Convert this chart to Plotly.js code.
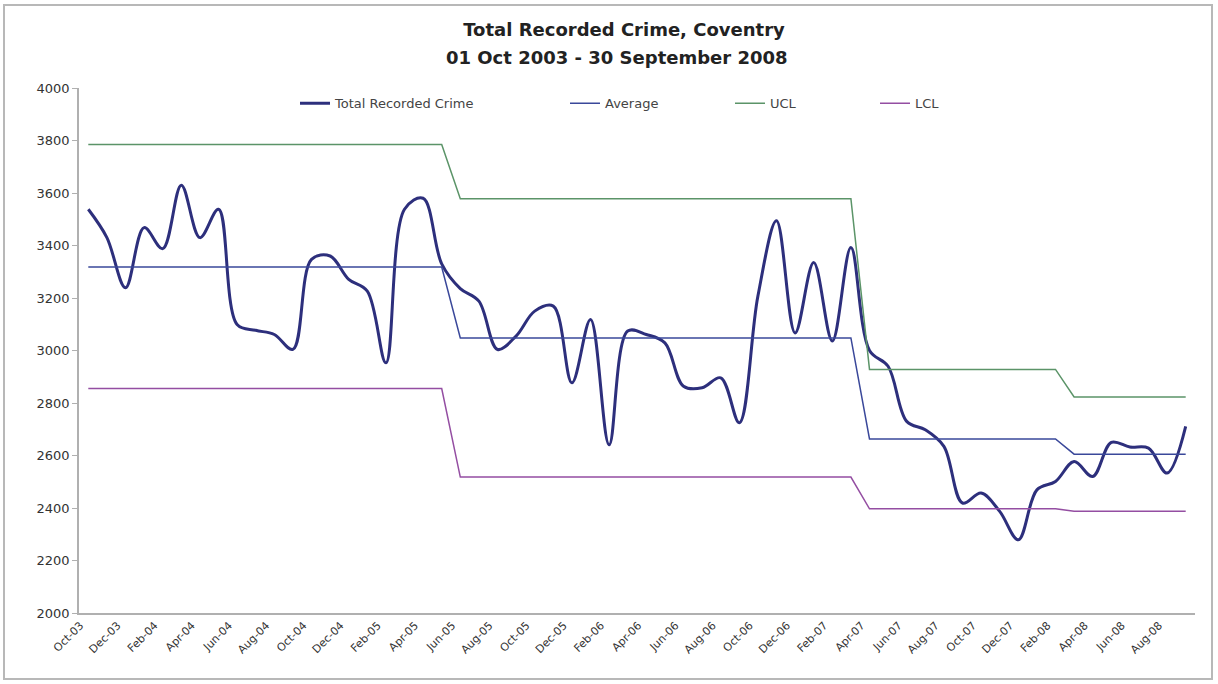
<!DOCTYPE html>
<html>
<head>
<meta charset="utf-8">
<script src="https://cdn.plot.ly/plotly-3.0.1.min.js"></script>
<style>
  html, body { margin: 0; padding: 0; background: #ffffff; }
  #chart { width: 1218px; height: 684px; }
</style>
</head>
<body>
<div id="chart"></div>
<script>
// ---- Data ----
const months = [
  "Oct-03","Nov-03","Dec-03","Jan-04","Feb-04","Mar-04","Apr-04","May-04","Jun-04","Jul-04",
  "Aug-04","Sep-04","Oct-04","Nov-04","Dec-04","Jan-05","Feb-05","Mar-05","Apr-05","May-05",
  "Jun-05","Jul-05","Aug-05","Sep-05","Oct-05","Nov-05","Dec-05","Jan-06","Feb-06","Mar-06",
  "Apr-06","May-06","Jun-06","Jul-06","Aug-06","Sep-06","Oct-06","Nov-06","Dec-06","Jan-07",
  "Feb-07","Mar-07","Apr-07","May-07","Jun-07","Jul-07","Aug-07","Sep-07","Oct-07","Nov-07",
  "Dec-07","Jan-08","Feb-08","Mar-08","Apr-08","May-08","Jun-08","Jul-08","Aug-08","Sep-08"
];

const totalCrime = [
  3538,3430,3239,3468,3388,3630,3430,3538,3099,3077,
  3061,3004,3347,3360,3271,3226,2953,3538,3580,3330,
  3236,3188,3004,3055,3150,3169,2877,3118,2641,3074,
  3061,3029,2864,2858,2896,2725,3207,3494,3067,3335,
  3036,3392,3000,2940,2730,2698,2635,2419,2457,2387,
  2279,2469,2501,2577,2520,2650,2632,2628,2533,2711
];

const average = [
  3318,3318,3318,3318,3318,3318,3318,3318,3318,3318,
  3318,3318,3318,3318,3318,3318,3318,3318,3318,3318,
  3048,3048,3048,3048,3048,3048,3048,3048,3048,3048,
  3048,3048,3048,3048,3048,3048,3048,3048,3048,3048,
  3048,3048,2663,2663,2663,2663,2663,2663,2663,2663,
  2663,2663,2663,2605,2605,2605,2605,2605,2605,2605
];

const ucl = [
  3785,3785,3785,3785,3785,3785,3785,3785,3785,3785,
  3785,3785,3785,3785,3785,3785,3785,3785,3785,3785,
  3578,3578,3578,3578,3578,3578,3578,3578,3578,3578,
  3578,3578,3578,3578,3578,3578,3578,3578,3578,3578,
  3578,3578,2928,2928,2928,2928,2928,2928,2928,2928,
  2928,2928,2928,2823,2823,2823,2823,2823,2823,2823
];

const lcl = [
  2855,2855,2855,2855,2855,2855,2855,2855,2855,2855,
  2855,2855,2855,2855,2855,2855,2855,2855,2855,2855,
  2518,2518,2518,2518,2518,2518,2518,2518,2518,2518,
  2518,2518,2518,2518,2518,2518,2518,2518,2518,2518,
  2518,2518,2397,2397,2397,2397,2397,2397,2397,2397,
  2397,2397,2397,2388,2388,2388,2388,2388,2388,2388
];

const tickMonths = [
  "Oct-03","Dec-03","Feb-04","Apr-04","Jun-04","Aug-04","Oct-04","Dec-04","Feb-05","Apr-05",
  "Jun-05","Aug-05","Oct-05","Dec-05","Feb-06","Apr-06","Jun-06","Aug-06","Oct-06","Dec-06",
  "Feb-07","Apr-07","Jun-07","Aug-07","Oct-07","Dec-07","Feb-08","Apr-08","Jun-08","Aug-08"
];

const yTicks = [2000,2200,2400,2600,2800,3000,3200,3400,3600,3800,4000];

const titleLine1 = "Total Recorded Crime, Coventry";
const titleLine2 = "01 Oct 2003 - 30 September 2008";

// ---- Traces ----
const traces = [
  {
    name: "Total Recorded Crime", x: months, y: totalCrime, type: "scatter", mode: "lines",
    line: { color: "#2d2f7c", width: 3, shape: "spline", smoothing: 1 },
    legend: "legend", hoverinfo: "x+y"
  },
  {
    name: "Average", x: months, y: average, type: "scatter", mode: "lines",
    line: { color: "#3a489a", width: 1.5 }, legend: "legend2"
  },
  {
    name: "UCL", x: months, y: ucl, type: "scatter", mode: "lines",
    line: { color: "#5b9468", width: 1.5 }, legend: "legend3"
  },
  {
    name: "LCL", x: months, y: lcl, type: "scatter", mode: "lines",
    line: { color: "#944ea2", width: 1.5 }, legend: "legend4"
  }
];

const legendBase = {
  orientation: "h", yanchor: "middle", xanchor: "left", y: 0.971,
  bgcolor: "rgba(0,0,0,0)", borderwidth: 0,
  font: { family: "DejaVu Sans, Arial, sans-serif", size: 13, color: "#444" }
};

const layout = {
  width: 1218, height: 684,
  margin: { l: 79, r: 23, t: 88, b: 71 },
  paper_bgcolor: "#ffffff", plot_bgcolor: "#ffffff",
  font: { family: "DejaVu Sans, Arial, sans-serif", color: "#333" },
  title: {
    text: "<b>" + titleLine1 + "</b>",
    x: 624 / 1218, xref: "container", xanchor: "center",
    y: 1 - 30 / 684, yref: "container", yanchor: "middle",
    font: { family: "DejaVu Sans, Arial, sans-serif", size: 18, color: "#222" }
  },
  annotations: [{
    text: "<b>" + titleLine2 + "</b>", showarrow: false,
    xref: "paper", yref: "paper",
    x: (617 - 79) / 1116, y: (613 - 57) / 525, xanchor: "center", yanchor: "middle",
    font: { family: "DejaVu Sans, Arial, sans-serif", size: 18, color: "#222" }
  }],
  showlegend: true,
  legend: Object.assign({}, legendBase, { x: (295 - 79) / 1116 }),
  legend2: Object.assign({}, legendBase, { x: (565 - 79) / 1116 }),
  legend3: Object.assign({}, legendBase, { x: (730 - 79) / 1116 }),
  legend4: Object.assign({}, legendBase, { x: (875 - 79) / 1116 }),
  xaxis: {
    type: "category", categoryorder: "array", categoryarray: months,
    range: [-0.5, months.length - 0.5],
    tickmode: "array", tickvals: tickMonths, ticktext: tickMonths,
    tickangle: -45, ticks: "", ticklabelshift: -8,
    tickfont: { family: "DejaVu Sans, Arial, sans-serif", size: 11, color: "#333" },
    showgrid: false, zeroline: false,
    showline: true, linecolor: "#b0b0b0", linewidth: 1.5
  },
  yaxis: {
    range: [2000, 4000], tickmode: "array", tickvals: yTicks,
    ticks: "outside", ticklen: 5, tickcolor: "#b0b0b0", tickwidth: 1,
    tickfont: { family: "DejaVu Sans, Arial, sans-serif", size: 13, color: "#333" },
    showgrid: false, zeroline: false,
    showline: true, linecolor: "#b0b0b0", linewidth: 1.5
  },
  shapes: [{
    type: "rect", xref: "paper", yref: "paper", layer: "below",
    x0: (4 - 79) / 1116, x1: (1212 - 79) / 1116,
    y0: (613 - 679) / 525, y1: (613 - 5) / 525,
    line: { color: "#b8b8b8", width: 2 }, fillcolor: "rgba(0,0,0,0)"
  }]
};

Plotly.newPlot("chart", traces, layout, { displayModeBar: false, responsive: false });
</script>
</body>
</html>
